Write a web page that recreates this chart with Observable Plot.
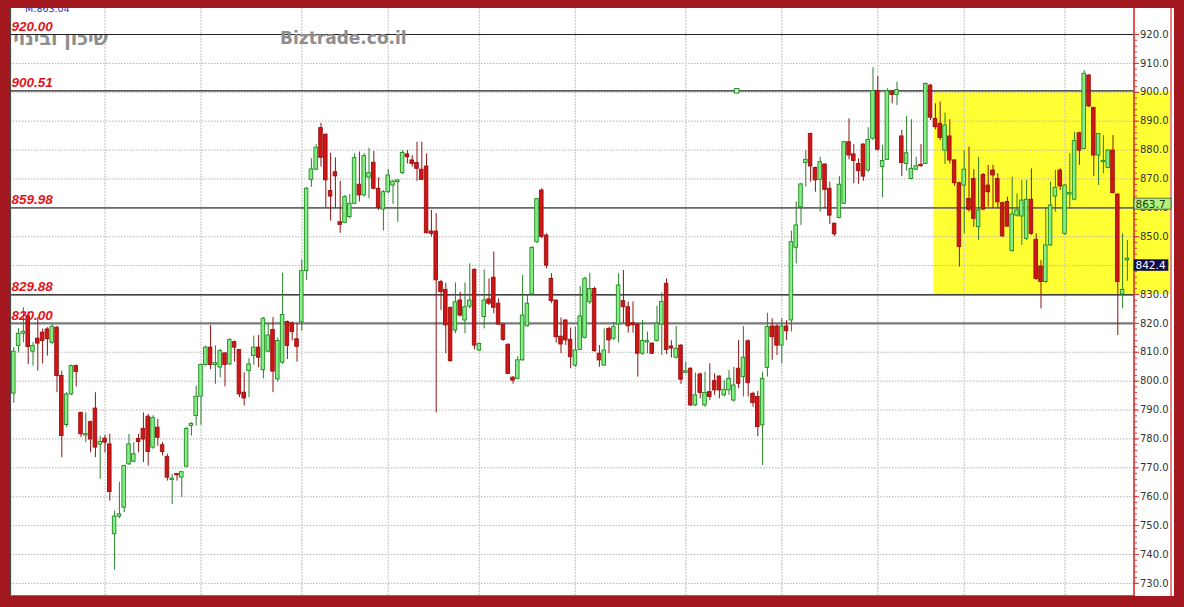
<!DOCTYPE html>
<html><head><meta charset="utf-8">
<script src="https://cdn.jsdelivr.net/npm/d3@7"></script>
<script src="https://cdn.jsdelivr.net/npm/@observablehq/plot@0.6"></script>
<style>
html,body{margin:0;padding:0;background:#a3171f;width:1184px;height:607px;overflow:hidden}
#wrap{position:absolute;left:10px;top:8px;width:1164px;height:588px;background:#fff;overflow:hidden}
#wrap svg{display:block;position:relative;z-index:1;background:transparent!important}
#ext{position:absolute;z-index:0;background:#ffff33}
</style></head><body><div id="wrap"><div id="ext"></div></div>
<script>
// ---- data (index = trading day) ----
const open=[795.7,812.2,816.4,822.5,810.2,814.7,816.8,817.9,813.3,818.5,
801.8,784.8,795.4,805.2,789,781.2,785.8,790.5,778,780.1,
778.1,747,753.1,756.2,771.2,772.1,780,783.5,787.7,777,
783.9,777.8,773.8,765.8,767.7,766.6,770.4,784.5,787.9,794.6,
805.6,811.6,805.6,804.7,809.6,805.8,813.5,810.8,796,803.5,
808.7,811.6,803.8,810.2,817.7,800.6,806.4,820.5,820,814.5,
820.4,838.1,869.7,873.2,887.6,885.3,865.8,872.3,855,854.8,
856.8,861.4,868,864.3,870.5,875.6,866.6,859.4,865.4,867.7,
868.9,872,878.5,876.4,875.5,873.2,874.3,851.8,851.8,834.3,
831.6,825.4,817.5,827.9,821,825.8,838.5,810.6,822.2,828.3,
835.8,826.8,819.6,812.6,801.2,800.8,807.2,819,830,848.1,
866,850.4,835.4,827.9,815.4,821,814.3,805.4,810.8,815,
827.3,831.9,809.5,805.4,818.1,814.7,819.6,827.7,825.6,820.1,
819.6,809.5,813.4,813,813.9,819.6,833.7,812,808.1,812.3,
802.9,804.3,791.6,802.3,791.6,796.2,800,801.6,795.1,796.8,
793.3,804.3,801.4,813.8,795.6,794.5,784.7,804.6,818.9,818.9,
812.3,818.9,821,846.2,860.2,875.5,885.6,873.8,869.7,875,
866.6,854.5,856.5,861.4,882.7,878.5,875.2,881.9,872.9,883.9,
900.4,874.1,876.6,900,899.1,884.7,875.2,870,873.2,874.9,
875.2,902.3,890.8,889.1,879.8,884.7,876.4,868.5,867.7,863.1,
870,853.3,871.4,867.7,872.9,870,861.6,862,845,857.3,
857,849.3,862.8,848.9,839.7,834.3,847,863.9,872.9,851,
864.6,862.8,885.8,880.4,905.8,894.6,878.1,875.8,873.8,879.8,
864.6,830,841.8];
const high=[811.6,818.2,825.4,824,813.3,822,818,818.5,819.7,819,
803.5,796,805.6,805.6,789.3,789,786.2,796,781,781.2,
781.6,755,765,770.8,781.6,778.7,781.6,789,788.5,788,
786.8,778.7,774.7,767.7,767.7,768.5,783.9,785.6,798.3,805.8,
812.2,819.3,812.2,811,809.8,814.7,813.9,811,802.9,807.8,
815.6,815.8,822,820,822,815,837.4,820.8,820.5,820,
842,867,877,881.9,889.3,885.6,878.9,877.3,869.2,864.3,
864.6,878.7,879.3,878.7,880.6,879.5,870.4,866,873.2,869.5,
869.7,879.8,879.8,878.1,882.7,882.7,878.7,859.1,858,834.9,
833.9,825.6,834,830.8,834,840.6,838.9,813.1,838.5,835.4,
844.7,828.5,819.6,812.9,801.6,808.5,836.6,830,846.6,863.3,
866.6,851,837.2,828.1,821.9,821.2,818.4,818.7,832.8,836,
837.4,832.5,812.3,818.1,818.7,820.4,837.2,838.3,827.4,827.4,
819.9,821,817,813.2,825.9,830.5,835.4,814,818.9,812.7,
806.6,804.6,802.8,802.8,803.1,806,802.5,801.8,800.2,803.7,
804.8,814.1,818.9,814.3,796.2,796.5,803.1,823.5,821.6,819.6,
821.6,821,851.9,862,868.5,879.8,885.8,874.1,877.5,875.2,
868.9,854.7,870.8,883,890.8,881.9,877,882.2,887.7,908.5,
905.5,881.6,901.2,900.6,903.5,886.8,891.6,890.5,877.5,881.9,
903.2,902.7,896,896.6,892.8,890.5,876.6,868.9,879.8,881,
873.2,877.5,871.8,874.7,874.7,871.8,862,863.7,870.6,864.8,
869.5,869.5,873.5,851,841.8,859.7,868.9,872.9,873.5,868.1,
878.7,886.2,886.2,907.5,906.2,894.8,885.6,885,880,885,
864.8,851,848.7];
const low=[792.3,809.8,813.3,805.8,805.2,803.5,806,808.7,812.7,796,
773.5,784,795,798,780.4,778.7,775.2,773.5,766,775.2,
758.5,734.6,752.4,754.5,770.8,771.8,775.2,771.8,770.6,776.4,
777.5,774.1,765.4,757.3,765.4,759.7,770,781,784.5,784.7,
805.2,804,798.9,801.2,798,805.5,806.6,794.3,791.4,794.3,
805.5,804.7,800.8,809.9,796,799.7,805.8,807.5,813.9,806.6,
817.3,834.8,867.1,872.9,874.1,860,855.4,859.7,851.2,854.5,
856.2,861.2,862,863.7,863.1,866.2,859.1,852,864.8,861.2,
855,871.5,875.2,874.1,869.2,869.5,851,849.9,789,824.5,
809.5,806.6,816.4,822.2,816.4,825,810.8,810.4,818.1,826.2,
823.3,819.3,813.8,802.5,799,800.5,806.9,818.7,829.7,847.5,
849.3,838.9,826.8,813.2,809.5,812.3,804.3,804.8,810.6,814.6,
826.5,810,804.8,805.1,809.5,814.1,813.2,819.9,816.6,816.6,
801.4,808.9,809.5,809.2,813.5,808.9,809.2,808,807.7,798.9,
802.5,791.2,791.2,793.9,791,793.3,795.1,793.9,794.5,795.1,
792.7,797.4,794.5,794.5,791,780.8,770.8,801.4,807.2,808.9,
806,814.1,817,840.6,853.9,867.2,868.9,865.4,858.5,859.7,
854.2,850.1,856.2,861.2,876.6,868.3,868.1,869.2,872.3,883.3,
879.6,863.5,876.4,896,895.4,870.8,872.7,869.7,872.9,874.1,
875,890.2,887,883.3,875,875.2,867.4,839.5,851,858.5,
853.3,848.7,859.1,860.2,859.7,859.7,849.8,853.3,844.7,856.8,
847,848.7,850.4,834.9,825,833.9,846.6,858.5,866,850.4,
859.7,862.5,874.7,880.1,894.8,870.8,867.7,871.8,873.5,864.8,
815.8,825,834.6];
const close=[810.2,816.4,817.1,811.8,812.2,813.0,813.9,814.5,818.8,801.8,
781,795.4,805.2,803.2,781.6,781.6,779.8,777,779,778.7,
761.6,753.1,753.9,770.6,778.1,774.7,778.9,779.8,775.5,787.3,
780.4,775.5,766.6,766.2,767.4,768.5,783.5,785.2,794.6,805.6,
811.6,805.6,806.2,810.4,805.6,814.2,811.6,795.4,794,805.8,
811.6,808.1,821.6,815.8,803.3,813.9,822.9,812.2,817,811.9,
838.1,866.6,873.3,880.8,877.3,869.5,863.9,870.9,854.1,863.7,
861.4,877.2,864.3,877.9,872,866.6,860,865.4,871.2,869.1,
869.5,879,877.5,875.2,873.5,869.7,851.2,851,834.9,830.8,
819.3,806.9,827.3,822.7,825.6,827.9,812.3,812.9,827.9,826.8,
825.4,819.6,814.3,802.5,800.2,807.2,822.7,826.8,846.1,863,
849.9,840,827.7,815.2,812.7,814.1,808.3,810.6,822.4,835.4,
831.9,810.4,807.2,810.6,814.1,818.7,833.1,825.6,819,819.3,
809.5,813.9,813.6,809.5,819.9,827.4,810.8,811.3,811.2,800.5,
803.4,791.6,795.1,795.9,795.9,794.5,796.8,796.8,797,800.8,
798.5,799.1,808.1,799.3,792.4,784.1,800.8,818.7,815.2,812.3,
818.9,817.3,848.1,853.9,868.1,876.6,874.3,869.5,875.8,866.2,
857.3,850.8,868,882.7,878.1,876.2,872.7,870.8,883.5,900.4,
880.1,876.2,900.4,899.1,900.8,875.5,878.9,873.5,874.4,874.4,
902.9,891.2,887.9,884.2,888.5,876.4,868.5,846.4,873.2,859.3,
856.2,859.1,859.4,865.4,871.2,861.9,850.1,853.5,857.7,859.1,
862.5,862.8,851,835.4,834.3,847,860.8,866.9,867.4,867.7,
865.1,883.1,879.8,906.4,895.1,878.1,885.6,876.2,879.8,865.1,
834.3,831.6,842.4];

const monthStarts=[19,39,60,78,97,117,140,160,180,198,219];
const yTicks=d3.range(730,921,10);
const yMinor=d3.range(730,921,2);
const levels=[920.00,900.51,859.98,829.88,820.00];
const levelLabels=["920.00","900.51","859.98","829.88","820.00"];
const boxStart=191.7, boxEnd=240.9, boxTop=900, boxBottom=830;
const handle=[{i:150.6, v:900.51}];
const maValue=863.7, lastValue=842.4;
const maText="M:863.04";
const titleHe="שיכון ובינוי";
const siteText="Biztrade.co.il";

// styles (not data)
const levelStroke=["#222","#222","#6a6a6a","#111","#7a7a7a"];
const levelWidth=[1.2,1.2,1.8,1.3,2.4];

const candles=open.map((o,i)=>({i,o,h:high[i],l:low[i],c:close[i],up:close[i]>=o}));
const lv=levels.map((v,k)=>({v,label:levelLabels[k],stroke:levelStroke[k],w:levelWidth[k]}));

const plot=Plot.plot({
  width:1164,height:588,
  marginLeft:0,marginRight:40.5,marginTop:0,marginBottom:1,
  x:{domain:[-0.6875,233.375],axis:null},
  y:{domain:[725.8,929.0],axis:null},
  style:{background:"transparent",overflow:"visible"},
  marks:[
    Plot.rect([{x1:boxStart,x2:boxEnd,y1:boxBottom,y2:boxTop}],{x1:"x1",x2:"x2",y1:"y1",y2:"y2",fill:"#ffff33",clip:false}),
    Plot.ruleY(yTicks,{stroke:"#b4b4b4",strokeDasharray:"1.5,1.5",strokeWidth:1}),
    Plot.ruleX(monthStarts,{stroke:"#cfcfcf",strokeDasharray:"2,1",strokeWidth:1.3}),
    Plot.ruleY(lv,{y:"v",stroke:d=>d.stroke,strokeWidth:d=>d.w}),
    Plot.ruleX(candles,{x:"i",y1:"l",y2:"h",stroke:d=>d.up?"#2c7d2c":"#8c1414",strokeWidth:1}),
    Plot.rect(candles,{
      x1:d=>d.i-0.37,x2:d=>d.i+0.37,
      y1:d=>Math.min(d.o,d.c),
      y2:d=>Math.max(Math.max(d.o,d.c),Math.min(d.o,d.c)+0.45),
      fill:d=>d.up?"#86ee86":"#d01515",
      stroke:d=>d.up?"#1f8a1f":"#9a1010",strokeWidth:0.9
    }),
    Plot.dot(handle,{x:"i",y:"v",symbol:"square",r:2.6,stroke:"#2a8a2a",fill:"#c9f3c9",strokeWidth:1}),
    Plot.text(lv,{y:"v",text:"label",frameAnchor:"left",textAnchor:"start",dx:1,dy:-8,
      fill:"#e3121b",fontWeight:"bold",fontStyle:"italic",fontSize:13.5,fontFamily:"Liberation Sans"}),
    Plot.axisY(yMinor,{anchor:"right",tickSize:2.5,text:null,stroke:"#e03030"}),
    Plot.axisY(yTicks,{anchor:"right",tickSize:4.5,tickPadding:1.5,tickFormat:d=>d.toFixed(1),
      stroke:"#e03030",fill:"#333",fontSize:10,fontFamily:"DejaVu Sans"}),
    Plot.frame({anchor:"left",stroke:"#4a4a4a",strokeWidth:1.2}),
    Plot.frame({anchor:"bottom",stroke:"#777",strokeWidth:1.2}),
    Plot.frame({anchor:"right",stroke:"#e02828",strokeWidth:1.6})
  ]
});
document.getElementById("wrap").appendChild(plot);

// decorations placed with the plot's own y scale
const svg=d3.select(plot);
const ys=plot.scale("y");
const xr=1123.5;
// yellow box continues behind the price axis
const ext=document.getElementById("ext");
ext.style.left=xr+"px";
ext.style.width="36px";
ext.style.top=ys.apply(boxTop)+"px";
ext.style.height=(ys.apply(boxBottom)-ys.apply(boxTop))+"px";
svg.append("line").attr("x1",1161).attr("x2",1161).attr("y1",0).attr("y2",588)
  .attr("stroke","#e03030").attr("stroke-width",1.2);
function tag(v,bg,fg,w){
  const y0=ys.apply(v)+1.5;
  svg.append("rect").attr("x",xr+0.5).attr("y",y0).attr("width",w).attr("height",11)
    .attr("fill",bg).attr("stroke","#333").attr("stroke-width",0.7);
  svg.append("text").attr("x",xr+2).attr("y",y0+9.5).attr("text-anchor","start").attr("font-family","DejaVu Sans")
    .attr("font-size",10.5).attr("fill",fg).text(v.toFixed(1));
}
tag(maValue,"#b2f27a","#1b3b10",37);
tag(lastValue,"#0c0c4e","#ffffff",34);
svg.append("text").attr("x",15).attr("y",3.5).attr("text-anchor","start").attr("font-family","DejaVu Sans").attr("font-size",9.5)
  .attr("fill","#3030b0").text(maText);
svg.append("text").attr("x",98).attr("y",37).attr("text-anchor","end").attr("font-family","DejaVu Sans").attr("font-weight","bold")
  .attr("font-size",19).attr("fill","#8e8e8e").text(titleHe);
svg.append("text").attr("x",270).attr("y",36).attr("text-anchor","start").attr("font-family","DejaVu Sans").attr("font-weight","bold")
  .attr("font-size",17).attr("fill","#8e8e8e").text(siteText);
</script></body></html>
